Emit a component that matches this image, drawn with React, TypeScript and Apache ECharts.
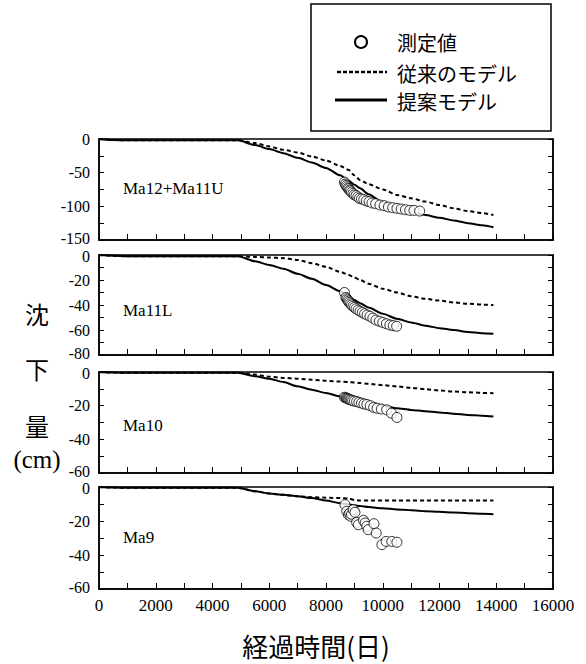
import React, { useEffect, useRef } from "react";
import * as echarts from "echarts";

// ---------------- data ----------------
const panelNames = ["Ma12+Ma11U", "Ma11L", "Ma10", "Ma9"];
const yMins = [-150, -80, -60, -60];
const yTickSteps = [25, 10, 10, 10];
const yLabelSteps = [50, 20, 20, 20];
const xTicks = { min: 0, max: 16000, step: 1000, labelStep: 2000 };

const legendNames = ["測定値", "従来のモデル", "提案モデル"];

const modelDays = [0, 500, 1000, 2000, 3000, 4000, 4900, 5500, 6000, 6500, 7000, 7500, 8000, 8500, 8800, 9000, 9200, 9500, 10000, 10500, 11000, 11500, 12000, 12500, 13000, 13500, 13900];

// Ma12+Ma11U
const proposed1 = [0, -1.5, -2, -2, -2, -2, -2, -9, -15, -21, -28, -35, -43, -54, -62, -68, -73, -82, -94, -102, -108, -113, -117, -121, -125, -128, -131];
const conventional1 = [0, -1.5, -2, -2, -2, -2, -2, -6, -11, -16, -20, -26, -32, -40, -46, -54, -61, -67, -75, -83, -88, -93, -98, -103, -107, -110, -113];
const measuredDays1 = [8650, 8680, 8710, 8740, 8770, 8800, 8830, 8860, 8900, 8950, 9000, 9060, 9120, 9180, 9250, 9330, 9420, 9520, 9620, 9750, 9900, 10050, 10200, 10350, 10500, 10650, 10800, 10950, 11100, 11300];
const measured1 = [-64, -67, -69, -71, -73, -74, -76, -77, -79, -81, -83, -84, -86, -88, -89, -90, -92, -93, -95, -96, -98, -99, -101, -102, -103, -104, -105, -106, -106, -107];

// Ma11L
const proposed2 = [0, -0.5, -1, -1, -1, -1, -1, -5, -8, -11, -15, -19, -24, -29, -33, -36, -38.5, -42, -47, -51, -54, -56.5, -58.5, -60, -61.5, -62.5, -63];
const conventional2 = [0, -0.5, -1, -1, -1, -1, -1, -1.5, -2, -2.5, -4, -6.5, -9.5, -13.5, -16, -18, -20, -23, -27, -30, -33, -35, -36.5, -38, -39, -39.7, -40];
const measuredDays2 = [8650, 8700, 8730, 8760, 8790, 8820, 8860, 8900, 8950, 9000, 9060, 9130, 9200, 9280, 9360, 9450, 9550, 9650, 9760, 9880, 10000, 10130, 10250, 10370, 10490];
const measured2 = [-30, -34, -35, -36, -37, -38, -39, -40, -41, -42, -43, -44, -45, -46, -47, -48, -49, -50.5, -52, -53, -54, -55, -56, -56.5, -57];

// Ma10
const proposed3 = [0, -0.3, -0.5, -0.5, -0.5, -0.5, -0.5, -2.5, -4, -6, -8.5, -10.5, -12.5, -14.5, -15.7, -16.5, -17.3, -18.5, -20, -21.5, -22.5, -23.3, -24, -24.8, -25.5, -26, -26.5];
const conventional3 = [0, -0.3, -0.5, -0.5, -0.5, -0.5, -0.5, -1.5, -2.8, -3.5, -4, -4.6, -5.2, -5.7, -6, -6.2, -6.5, -7, -7.8, -8.6, -9.4, -10.2, -11, -11.6, -12, -12.4, -12.6];
const measuredDays3 = [8650, 8690, 8720, 8750, 8780, 8810, 8850, 8890, 8940, 9000, 9080, 9160, 9250, 9340, 9440, 9560, 9680, 9800, 9950, 10140, 10310, 10500];
const measured3 = [-15, -15.3, -15.5, -15.7, -16, -16.2, -16.4, -16.7, -17, -17.3, -17.6, -18, -18.5, -19, -19.3, -20, -21, -21.5, -22, -22.5, -24.5, -27];

// Ma9
const proposed4 = [0, -0.3, -0.5, -0.5, -0.5, -0.5, -0.5, -2.5, -3.8, -4.6, -5.5, -6.5, -8, -9.5, -10.2, -10.8, -11.2, -11.8, -12.5, -13.2, -13.7, -14.2, -14.6, -15, -15.4, -15.8, -16];
const conventional4 = [0, -0.3, -0.5, -0.5, -0.5, -0.5, -0.5, -2.5, -3.8, -4.6, -5.5, -6, -6.3, -6.5, -6.8, -7.6, -8, -8, -8, -8, -8, -8, -8, -8, -8, -8, -8];
const measuredDays4 = [8670, 8730, 8790, 8830, 8870, 8900, 8960, 9020, 9080, 9140, 9320, 9380, 9440, 9490, 9690, 9770, 9970, 10120, 10320, 10500];
const measured4 = [-10.4, -14.3, -16.3, -15.5, -17.2, -16, -13.3, -14.9, -20.8, -22.2, -19.6, -21.2, -23.1, -25.1, -21.6, -27.1, -33.9, -32, -32, -32.5];

const proposedAll = [proposed1, proposed2, proposed3, proposed4];
const conventionalAll = [conventional1, conventional2, conventional3, conventional4];
const measuredDaysAll = [measuredDays1, measuredDays2, measuredDays3, measuredDays4];
const measuredAll = [measured1, measured2, measured3, measured4];

// ---------------- layout ----------------
const W = 586;
const H = 664;
const gridTops = [139, 255, 372, 487];
const gridHeights = [101, 100, 101, 102];
const gridLeft = 99;
const gridRight = 33;

const SERIF = "Liberation Serif, Times New Roman, serif";
const CJK = "Noto Sans CJK JP, Noto Sans, sans-serif";

function zip(xs: number[], ys: number[]) {
  return xs.map((x, i) => [x, ys[i]]);
}

export default function App() {
  const ref = useRef<HTMLDivElement>(null);

  useEffect(() => {
    document.body.style.margin = "0";
    if (!ref.current) return;
    const chart = echarts.init(ref.current, undefined, { renderer: "svg" });

    const grids: any[] = [];
    const xAxes: any[] = [];
    const yAxes: any[] = [];
    const series: any[] = [];

    for (let i = 0; i < 4; i++) {
      const yMin = yMins[i];
      grids.push({
        left: gridLeft,
        right: gridRight,
        top: gridTops[i],
        height: gridHeights[i],
        show: true,
        borderColor: "#000",
        borderWidth: 1.5,
        backgroundColor: "transparent",
      });
      xAxes.push({
        type: "value",
        gridIndex: i,
        min: xTicks.min,
        max: xTicks.max,
        interval: xTicks.step,
        axisLine: { show: true, onZero: false, lineStyle: { color: "#000", width: 1.5 } },
        axisTick: { show: true, inside: true, length: 6, lineStyle: { color: "#000", width: 1 } },
        splitLine: { show: false },
        axisLabel: {
          show: i === 3,
          margin: 8,
          color: "#000",
          fontFamily: SERIF,
          fontSize: 17,
          formatter: (v: number) => (v % xTicks.labelStep === 0 ? String(v) : ""),
        },
      });
      yAxes.push({
        type: "value",
        gridIndex: i,
        min: yMin,
        max: 0,
        interval: yTickSteps[i],
        axisLine: { show: true, onZero: false, lineStyle: { color: "#000", width: 1.5 } },
        axisTick: { show: true, inside: true, length: 5, lineStyle: { color: "#000", width: 1 } },
        splitLine: { show: false },
        axisLabel: {
          margin: 9,
          color: "#000",
          fontFamily: SERIF,
          fontSize: 16,
          formatter: (v: number) => {
            if (v % yLabelSteps[i] !== 0) return "";
            if (v === yMin) return "{m|" + v + "}";
            if (v === 0 && i > 0) return "{t|0}";
            return String(v);
          },
          rich: {
            m: { fontFamily: SERIF, fontSize: 16, color: "#000", padding: [0, 0, 4, 0] },
            t: { fontFamily: SERIF, fontSize: 16, color: "#000", padding: [2, 0, 0, 0] },
          },
        },
      });
      yAxes.push({
        type: "value",
        gridIndex: i,
        position: "right",
        min: yMin,
        max: 0,
        interval: yTickSteps[i],
        axisLine: { show: true, onZero: false, lineStyle: { color: "#000", width: 1.5 } },
        axisTick: { show: true, inside: true, length: 5, lineStyle: { color: "#000", width: 1 } },
        splitLine: { show: false },
        axisLabel: { show: false },
      });

      series.push({
        type: "line",
        name: legendNames[1],
        xAxisIndex: i,
        yAxisIndex: i * 2,
        data: zip(modelDays, conventionalAll[i]),
        showSymbol: false,
        smooth: 0.25,
        smoothMonotone: "x",
        lineStyle: { color: "#000", width: 2, type: [4, 3] },
        z: 2,
      });
      series.push({
        type: "line",
        name: legendNames[2],
        xAxisIndex: i,
        yAxisIndex: i * 2,
        data: zip(modelDays, proposedAll[i]),
        showSymbol: false,
        smooth: 0.25,
        smoothMonotone: "x",
        lineStyle: { color: "#000", width: 2 },
        z: 2,
      });
      series.push({
        type: "scatter",
        name: legendNames[0],
        xAxisIndex: i,
        yAxisIndex: i * 2,
        data: zip(measuredDaysAll[i], measuredAll[i]),
        symbol: "circle",
        symbolSize: 10,
        itemStyle: { color: "#fff", borderColor: "#000", borderWidth: 1 },
        z: 4,
      });
    }

    const panelLabelY = [188, 310, 425, 537];
    const graphic: any[] = [];
    panelNames.forEach((n, i) => {
      graphic.push({
        type: "text",
        x: 123,
        y: panelLabelY[i],
        silent: true,
        style: { text: n, fill: "#000", fontSize: 17, fontFamily: SERIF, textAlign: "left", align: "left", textVerticalAlign: "middle", verticalAlign: "middle" },
      });
    });

    // legend box
    graphic.push({ type: "rect", silent: true, shape: { x: 311, y: 4, width: 240, height: 127 }, style: { fill: "#fff", stroke: "#000", lineWidth: 1.5 } });
    graphic.push({ type: "circle", silent: true, shape: { cx: 361, cy: 42, r: 6 }, style: { fill: "#fff", stroke: "#000", lineWidth: 2 } });
    graphic.push({ type: "line", silent: true, shape: { x1: 337, y1: 72, x2: 387, y2: 72 }, style: { stroke: "#000", lineWidth: 2.5, lineDash: [4, 2] } });
    graphic.push({ type: "line", silent: true, shape: { x1: 335, y1: 100, x2: 387, y2: 100 }, style: { stroke: "#000", lineWidth: 3 } });
    const legendY = [42, 73, 101];
    legendNames.forEach((n, i) => {
      graphic.push({
        type: "text",
        x: 397,
        y: legendY[i],
        silent: true,
        style: { text: n, fill: "#000", fontSize: 20, fontFamily: CJK, textAlign: "left", align: "left", textVerticalAlign: "middle", verticalAlign: "middle" },
      });
    });

    // y-axis title (vertical)
    const yTitle = [
      { t: "沈", y: 313, s: 24, f: CJK },
      { t: "下", y: 368, s: 24, f: CJK },
      { t: "量", y: 425, s: 24, f: CJK },
      { t: "(cm)", y: 459, s: 25, f: SERIF },
    ];
    yTitle.forEach((o) => {
      graphic.push({
        type: "text",
        x: 37,
        y: o.y,
        silent: true,
        style: { text: o.t, fill: "#000", fontSize: o.s, fontFamily: o.f, textAlign: "center", align: "center", textVerticalAlign: "middle", verticalAlign: "middle" },
      });
    });
    // x-axis title
    graphic.push({
      type: "text",
      x: 316,
      y: 645,
      silent: true,
      style: { text: "経過時間(日)", fill: "#000", fontSize: 26, fontFamily: CJK, textAlign: "center", align: "center", textVerticalAlign: "middle", verticalAlign: "middle" },
    });

    chart.setOption({
      animation: false,
      backgroundColor: "#fff",
      grid: grids,
      xAxis: xAxes,
      yAxis: yAxes,
      series,
      graphic,
    });

    return () => chart.dispose();
  }, []);

  return <div ref={ref} style={{ width: W, height: H }} />;
}
